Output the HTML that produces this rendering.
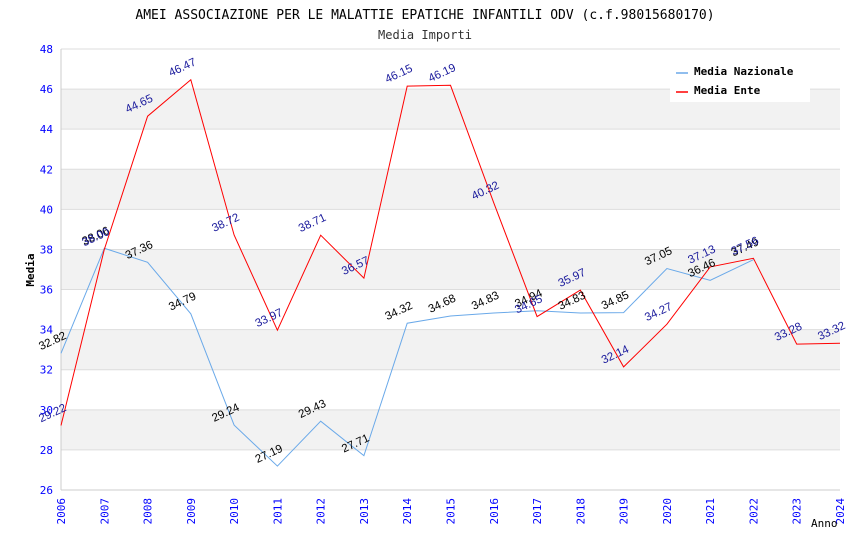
<!DOCTYPE html>
<html><head><meta charset="utf-8"><style>
body{margin:0;background:#fff;}
svg{font-family:"DejaVu Sans Mono","Liberation Mono",monospace;}
</style></head><body>
<svg id="c" width="850" height="550" xmlns="http://www.w3.org/2000/svg">
<text x="425" y="19" text-anchor="middle" font-size="13" fill="#000">AMEI ASSOCIAZIONE PER LE MALATTIE EPATICHE INFANTILI ODV (c.f.98015680170)</text>
<text x="425" y="39" text-anchor="middle" font-size="12" fill="#333">Media Importi</text>
<g id="bands"></g><g id="grid"></g><g id="axes"></g><g id="series"></g><g id="labels"></g>
<g>
<rect x="670" y="60" width="140" height="42" fill="#fff"/>
<line x1="676" y1="73" x2="688" y2="73" stroke="#6aa9e9" stroke-width="1.5"/>
<text x="694" y="75" font-size="11" font-weight="bold">Media Nazionale</text>
<line x1="676" y1="92" x2="688" y2="92" stroke="#f00" stroke-width="1.5"/>
<text x="694" y="94" font-size="11" font-weight="bold">Media Ente</text>
</g>
<text x="34" y="270" font-size="11" font-weight="bold" text-anchor="middle" transform="rotate(-90 34 270)">Media</text>
<text x="811" y="527" font-size="11">Anno</text>
</svg>
<script>
const years=[2006,2007,2008,2009,2010,2011,2012,2013,2014,2015,2016,2017,2018,2019,2020,2021,2022,2023,2024];
const nazionale=[32.82,38.06,37.36,34.79,29.24,27.19,29.43,27.71,34.32,34.68,34.83,34.94,34.83,34.85,37.05,36.46,37.49,null,null];
const ente=[29.22,38.00,44.65,46.47,38.72,33.97,38.71,36.57,46.15,46.19,40.32,34.65,35.97,32.14,34.27,37.13,37.56,33.28,33.32];
const yTicks=[26,28,30,32,34,36,38,40,42,44,46,48];
const NS='http://www.w3.org/2000/svg';
const L=61,R=840,T=49,B=490,ymin=26,ymax=48;
const xs=i=>L+(R-L)*i/(years.length-1);
const ys=v=>B-(v-ymin)/(ymax-ymin)*(B-T);
function mk(t,p,a){const e=document.createElementNS(NS,t);for(const k in a)e.setAttribute(k,a[k]);p.appendChild(e);return e;}
const bands=document.getElementById('bands'),grid=document.getElementById('grid'),axes=document.getElementById('axes'),series=document.getElementById('series'),labels=document.getElementById('labels');
for(let v=28;v<ymax;v+=4){const r=mk('rect',bands,{x:L,y:ys(v+2),width:R-L,height:ys(v)-ys(v+2),fill:'#f2f2f2'});

}
yTicks.forEach(v=>{const l=mk('line',grid,{x1:L,x2:R,y1:ys(v),y2:ys(v),stroke:'#ddd','stroke-width':1});


const t=mk('text',axes,{x:L-8,y:ys(v)+4,'text-anchor':'end','font-size':11,fill:'#00f'});t.textContent=v;

});
const ax=mk('line',axes,{x1:L,x2:L,y1:T,y2:B,stroke:'#ccc'});


const bx=mk('line',axes,{x1:L,x2:R,y1:B,y2:B,stroke:'#ccc'});


years.forEach((y,i)=>{const x=xs(i);const t=mk('text',axes,{x:x+4,y:B+8,'text-anchor':'end','font-size':11,fill:'#00f',transform:`rotate(-90 ${x+4} ${B+8})`});t.textContent=y;

});
function draw(arr,color,lc,name){let pts=[];arr.forEach((v,i)=>{if(v!=null)pts.push(xs(i).toFixed(1)+','+ys(v).toFixed(1));});
const p=mk('polyline',series,{points:pts.join(' '),fill:'none',stroke:color,'stroke-width':1});


arr.forEach((v,i)=>{if(v==null)return;const x=xs(i)-20,y=ys(v)-3;const t=mk('text',labels,{x:x,y:y,'font-size':11.5,fill:lc,transform:`rotate(-25 ${x} ${y})`,'font-family':'Liberation Sans, sans-serif'});t.textContent=v.toFixed(2);

});}
draw(nazionale,'#6aa9e9','#000','nazionale');
draw(ente,'#f00','#1a1a9c','ente');
</script>
</body></html>
